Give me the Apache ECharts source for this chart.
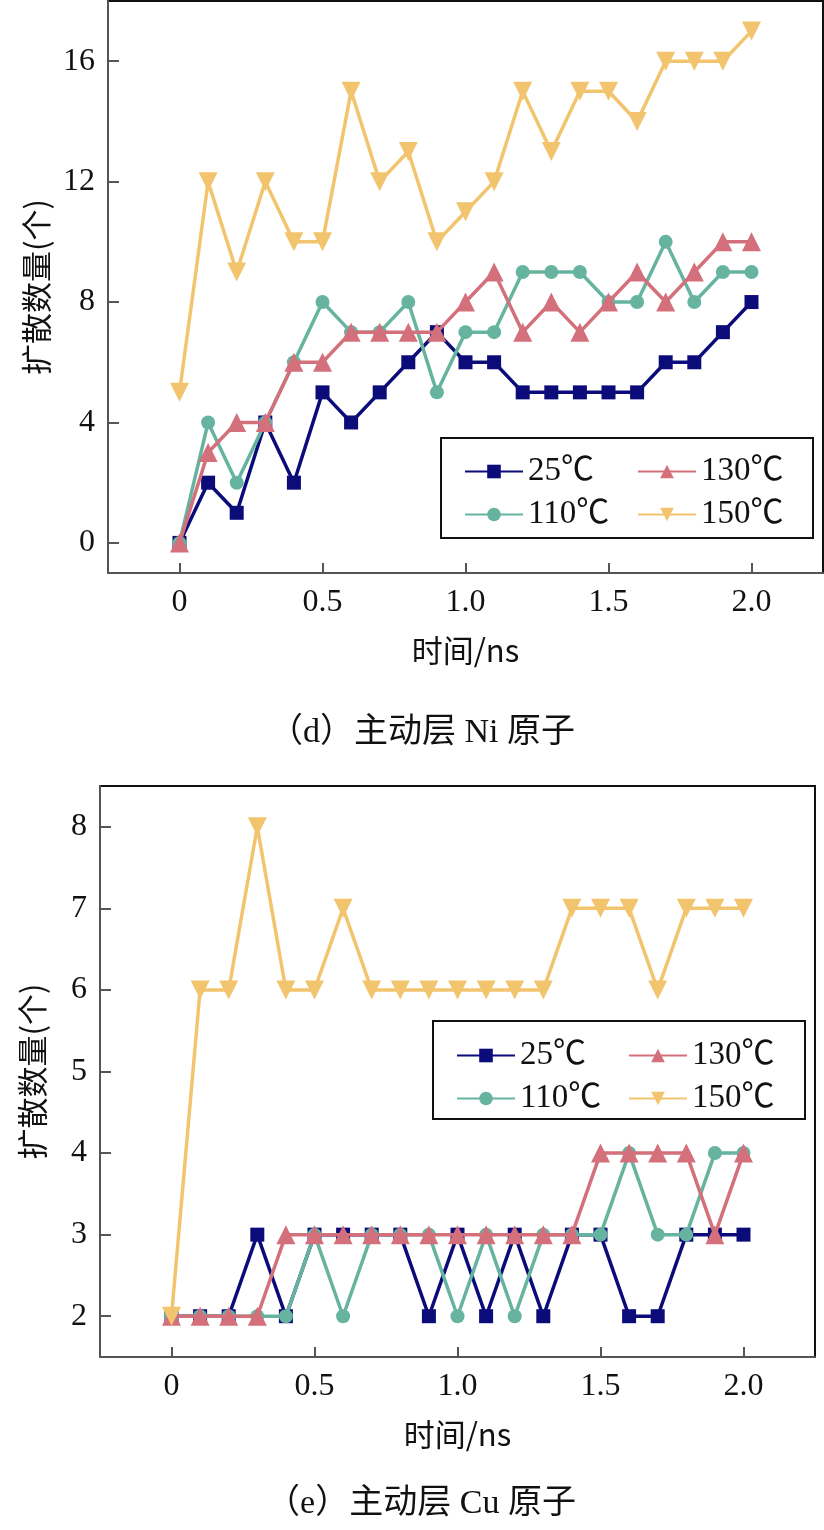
<!DOCTYPE html>
<html>
<head>
<meta charset="utf-8">
<script src="https://cdn.jsdelivr.net/npm/echarts@6/dist/echarts.min.js"></script>
<style>
html,body{margin:0;padding:0;background:#fff;}
#chart{width:824px;height:1530px;}
</style>
</head>
<body>
<div id="chart"></div>
<script>
// ---- data ----
const times = [0,0.1,0.2,0.3,0.4,0.5,0.6,0.7,0.8,0.9,1.0,1.1,1.2,1.3,1.4,1.5,1.6,1.7,1.8,1.9,2.0];
const seriesNames = ['25℃','110℃','130℃','150℃'];
// (d) Ni atoms
const ni25  = [0,2,1,4,2,5,4,5,6,7,6,6,5,5,5,5,5,6,6,7,8];
const ni110 = [0,4,2,4,6,8,7,7,8,5,7,7,9,9,9,8,8,10,8,9,9];
const ni130 = [0,3,4,4,6,6,7,7,7,7,8,9,7,8,7,8,9,8,9,10,10];
const ni150 = [5,12,9,12,10,10,15,12,13,10,11,12,15,13,15,15,14,16,16,16,17];
// (e) Cu atoms
const cu25  = [2,2,2,3,2,3,3,3,3,2,3,2,3,2,3,3,2,2,3,3,3];
const cu110 = [2,2,2,2,2,3,2,3,3,3,2,3,2,3,3,3,4,3,3,4,4];
const cu130 = [2,2,2,2,3,3,3,3,3,3,3,3,3,3,3,4,4,4,4,3,4];
const cu150 = [2,6,6,8,6,6,7,6,6,6,6,6,6,6,7,7,7,6,7,7,7];
const xTicks = [0,0.5,1.0,1.5,2.0];
const niYTicks = [0,4,8,12,16];
const cuYTicks = [2,3,4,5,6,7,8];
const xTitle = '时间/ns';
const yTitle = '扩散数量(个)';
const captions = ['（d）主动层 Ni 原子','（e）主动层 Cu 原子'];

// ---- styles ----
const colors = ['#0b0b7a','#66b4a0','#d3707b','#f2c46e'];
const symbols = ['rect','circle','triangle','triangle'];
const symRot = [0,0,0,180];
const symSize = [14,14,19,19];
const serif = '"Liberation Serif","Times New Roman",serif';
const cjk = '"Noto Sans CJK SC",sans-serif';
const mixed = '"Liberation Serif","Noto Sans CJK SC",serif';

function pairs(arr){ return times.map((t,i)=>[t,arr[i]]); }

function mkX(gi){
  return {
    gridIndex: gi, type:'value', min:-0.25, max:2.25,
    name: xTitle, nameLocation:'middle', nameGap: 62,
    nameTextStyle:{fontFamily:cjk, fontSize:31, color:'#111'},
    axisLine:{show:true, onZero:false, lineStyle:{color:'#555', width:2}},
    axisTick:{show:true, inside:true, length:10, customValues:xTicks, lineStyle:{color:'#555', width:2}},
    axisLabel:{customValues:xTicks, margin:14, fontFamily:serif, fontSize:32, color:'#111',
      formatter:v=> v===0 ? '0' : v.toFixed(1)},
    splitLine:{show:false}
  };
}
function mkY(gi, min, max, ticks){
  return {
    gridIndex: gi, type:'value', min:min, max:max,
    name: yTitle, nameLocation:'middle', nameGap: 52, nameRotate:90,
    nameTextStyle:{fontFamily:cjk, fontSize:31, color:'#111'},
    axisLine:{show:true, onZero:false, lineStyle:{color:'#555', width:2}},
    axisTick:{show:true, inside:true, length:11, customValues:ticks, lineStyle:{color:'#555', width:2}},
    axisLabel:{customValues:ticks, margin:13, fontFamily:serif, fontSize:32, color:'#111'},
    splitLine:{show:false}
  };
}
function mkSeries(gi, arrs){
  return arrs.map((a,k)=>({
    name: seriesNames[k], type:'line', xAxisIndex:gi, yAxisIndex:gi,
    data: pairs(a), symbol: symbols[k], symbolRotate: symRot[k], symbolSize: symSize[k],
    showAllSymbol:true, color: colors[k],
    lineStyle:{width:3.5, color:colors[k]},
    itemStyle:{color:colors[k]},
    z: 2+k, animation:false
  }));
}
function mkLegends(col1x, col2x, top){
  const base = {
    orient:'vertical', top: top, itemWidth:58, itemHeight:17, itemGap:10, itemTextGap:9,
    textStyle:{fontFamily:mixed, fontSize:33, color:'#111', lineHeight:32},
    selectedMode:false
  };
  return [
    Object.assign({}, base, {left: col1x, data: [seriesNames[0], seriesNames[1]]}),
    Object.assign({}, base, {left: col2x, data: [seriesNames[2], seriesNames[3]]})
  ];
}

const chart = echarts.init(document.getElementById('chart'), null, {renderer:'canvas'});
const option = {
  backgroundColor:'#fff',
  animation:false,
  grid:[
    {left:108, top:1, width:715, height:572, show:true, borderColor:'#111', borderWidth:2, containLabel:false},
    {left:100, top:786, width:715, height:571, show:true, borderColor:'#111', borderWidth:2, containLabel:false}
  ],
  xAxis:[mkX(0), mkX(1)],
  yAxis:[mkY(0,-1,18,niYTicks), mkY(1,1.5,8.5,cuYTicks)],
  legend: [].concat(mkLegends(459, 632, 450), mkLegends(451, 623, 1034)),
  title:[
    {text:captions[0], left:417, top:711, textAlign:'center', textStyle:{fontFamily:mixed, fontSize:34, fontWeight:'normal', color:'#111'}},
    {text:captions[1], left:416, top:1482, textAlign:'center', textStyle:{fontFamily:mixed, fontSize:34, fontWeight:'normal', color:'#111'}}
  ],
  graphic:[
    {type:'rect', shape:{x:441, y:438, width:372, height:100}, style:{fill:'none', stroke:'#111', lineWidth:2}, z:100},
    {type:'rect', shape:{x:433, y:1021, width:372, height:98}, style:{fill:'none', stroke:'#111', lineWidth:2}, z:100}
  ],
  series: mkSeries(0,[ni25,ni110,ni130,ni150]).concat(mkSeries(1,[cu25,cu110,cu130,cu150]))
};
chart.setOption(option);
</script>
</body>
</html>
